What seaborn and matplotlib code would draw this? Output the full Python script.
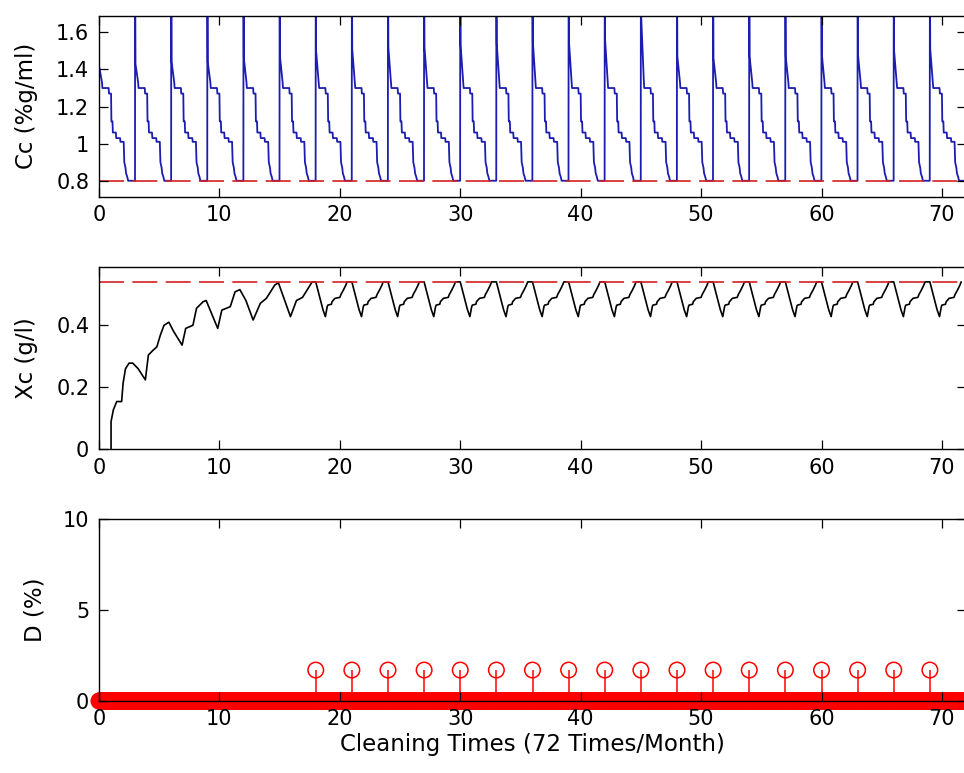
import numpy as np
import pandas as pd
import matplotlib
matplotlib.use('Agg')
import matplotlib.pyplot as plt
import seaborn as sns

sns.set_style('ticks')
plt.rcParams['font.family'] = ['DejaVu Sans']
plt.rcParams.update({'text.color': 'black', 'axes.labelcolor': 'black',
                     'xtick.color': 'black', 'ytick.color': 'black',
                     'axes.edgecolor': 'black'})

# ---- data ----
cycle_len = 3  # cleaning every 3 time units

# Cc: level right after each cleaning spike (one value per cycle, cycle 0 starts at t=0)
cc_shoulder = [1.41, 1.43, 1.44, 1.44, 1.46, 1.47, 1.50, 1.51, 1.52, 1.52, 1.53, 1.54,
               1.55, 1.55, 1.56, 1.68, 1.47, 1.46, 1.47, 1.47, 1.48, 1.48, 1.50, 1.51]
cc_spike_top = 2.0
# staircase decay inside one cycle (time since cleaning, value)
cc_cycle_r = [0.25, 0.28, 0.80, 0.83, 1.00, 1.03, 1.12, 1.15, 1.40, 1.43, 1.75, 1.78,
              2.05, 2.10, 2.20, 2.25, 2.35, 2.42, 2.99]
cc_cycle_v = [1.33, 1.30, 1.30, 1.27, 1.27, 1.12, 1.12, 1.06, 1.06, 1.03, 1.03, 1.01,
              1.01, 0.90, 0.87, 0.84, 0.82, 0.80, 0.80]
cc_limit = 0.8

# Xc: start-up transient then periodic
xc_start_t = [1.0, 1.0, 1.19, 1.47, 1.88, 2.0, 2.2, 2.5, 2.8, 3.25, 3.85, 4.1, 4.5, 4.8,
              5.1, 5.4, 5.8, 6.2, 6.9, 7.2, 7.8, 8.1, 8.65, 8.9, 9.86, 10.2, 10.9, 11.3,
              11.7, 12.2, 12.8, 13.4, 13.9, 14.6, 14.9, 15.9, 16.4, 16.9, 17.7]
xc_start_v = [0.0, 0.089, 0.127, 0.154, 0.154, 0.213, 0.26, 0.278, 0.278, 0.26, 0.224,
              0.304, 0.32, 0.33, 0.369, 0.40, 0.41, 0.38, 0.336, 0.39, 0.40, 0.455,
              0.476, 0.48, 0.39, 0.449, 0.46, 0.508, 0.515, 0.48, 0.417, 0.471, 0.487,
              0.53, 0.537, 0.428, 0.48, 0.49, 0.54]
xc_cycle_r = [0.0, 0.2, 0.4, 0.6, 0.8, 0.95, 1.0, 1.3, 1.35, 1.6, 2.0, 2.1, 2.3, 2.5, 2.6]
xc_cycle_v = [0.54, 0.51, 0.48, 0.45, 0.428, 0.46, 0.465, 0.468, 0.476, 0.487, 0.49,
              0.50, 0.514, 0.53, 0.54]
xc_steady_cycles = range(6, 24)
xc_limit = 0.54

# D: stem values at cleaning times, zero elsewhere on the simulation grid
d_times = [18, 21, 24, 27, 30, 33, 36, 39, 42, 45, 48, 51, 54, 57, 60, 63, 66, 69]
d_values = [1.7, 1.7, 1.7, 1.7, 1.7, 1.7, 1.7, 1.7, 1.7, 1.7, 1.7, 1.7, 1.7, 1.7, 1.7,
            1.7, 1.7, 1.7]
sim_step = 0.05
t_end = 72

# ---- build series ----
cc_t, cc_v = [], []
for k, sh in enumerate(cc_shoulder):
    t0 = k * cycle_len
    top = cc_spike_top if k > 0 else sh
    cc_t += [t0, t0 + 0.03] + [t0 + r for r in cc_cycle_r]
    cc_v += [top, sh] + cc_cycle_v
cc_df = pd.DataFrame({'t': cc_t, 'Cc': cc_v})

xc_t, xc_v = list(xc_start_t), list(xc_start_v)
for k in xc_steady_cycles:
    xc_t += [k * cycle_len + r for r in xc_cycle_r]
    xc_v += xc_cycle_v
xc_df = pd.DataFrame({'t': xc_t, 'Xc': xc_v})

grid = np.round(np.arange(0, t_end + 1e-9, sim_step), 2)
d_df = pd.DataFrame({'t': grid, 'D': 0.0})
d_df.loc[d_df['t'].isin(d_times), 'D'] = d_values

# ---- figure ----
W, H = 964, 773
fig = plt.figure(figsize=(W / 100, H / 100), dpi=100)
left, width = 99 / W, 867 / W
ax1 = fig.add_axes([left, 1 - 196.7 / H, width, 181 / H])
ax2 = fig.add_axes([left, 1 - 449.3 / H, width, 182.6 / H])
ax3 = fig.add_axes([left, 1 - 701 / H, width, 182 / H])

sns.lineplot(data=cc_df, x='t', y='Cc', ax=ax1, color='#1c1cb0', lw=1.3,
             estimator=None, sort=False)
ax1.axhline(cc_limit, color='#d42020', lw=1.2, ls=(0, (15, 5)))
ax1.set_ylim(0.714, 1.69)
ax1.set_yticks([0.8, 1, 1.2, 1.4, 1.6])
ax1.set_yticklabels(['0.8', '1', '1.2', '1.4', '1.6'])
ax1.set_ylabel('Cc (%g/ml)')

sns.lineplot(data=xc_df, x='t', y='Xc', ax=ax2, color='black', lw=1.2,
             estimator=None, sort=False)
ax2.axhline(xc_limit, color='#d42020', lw=1.2, ls=(0, (15, 5)))
ax2.set_ylim(0, 0.589)
ax2.set_yticks([0, 0.2, 0.4])
ax2.set_yticklabels(['0', '0.2', '0.4'])
ax2.set_ylabel('Xc (g/l)')

stems = d_df[d_df['D'] > 0]
ax3.vlines(stems['t'], 0, stems['D'], color='red', lw=1.1)
ax3.scatter(d_df['t'], d_df['D'], s=125, marker='o', facecolors='none',
            edgecolors='red', linewidths=1.1, clip_on=False, zorder=2)
ax3.set_ylim(0, 10)
ax3.set_yticks([0, 5, 10])
ax3.set_ylabel('D (%)')
ax3.set_xlabel('Cleaning Times (72 Times/Month)', fontsize=16.5, labelpad=3)

for ax, lx in [(ax1, -0.070), (ax2, -0.070), (ax3, -0.060)]:
    ax.set_xlim(0, t_end)
    ax.set_xticks(range(0, 71, 10))
    ax.tick_params(direction='in', top=True, right=True, length=6.5, width=0.9,
                   labelsize=15, pad=6)
    ax.tick_params(axis='y', pad=7)
    ax.set_axisbelow(False)
    for s in ax.spines.values():
        s.set_linewidth(1.0)
        s.set_color('black')
    ax.yaxis.label.set_fontsize(16.5)
    ax.yaxis.set_label_coords(lx, 0.5)
    if ax is not ax3:
        ax.set_xlabel('')

fig.savefig('out.png', dpi=100)
